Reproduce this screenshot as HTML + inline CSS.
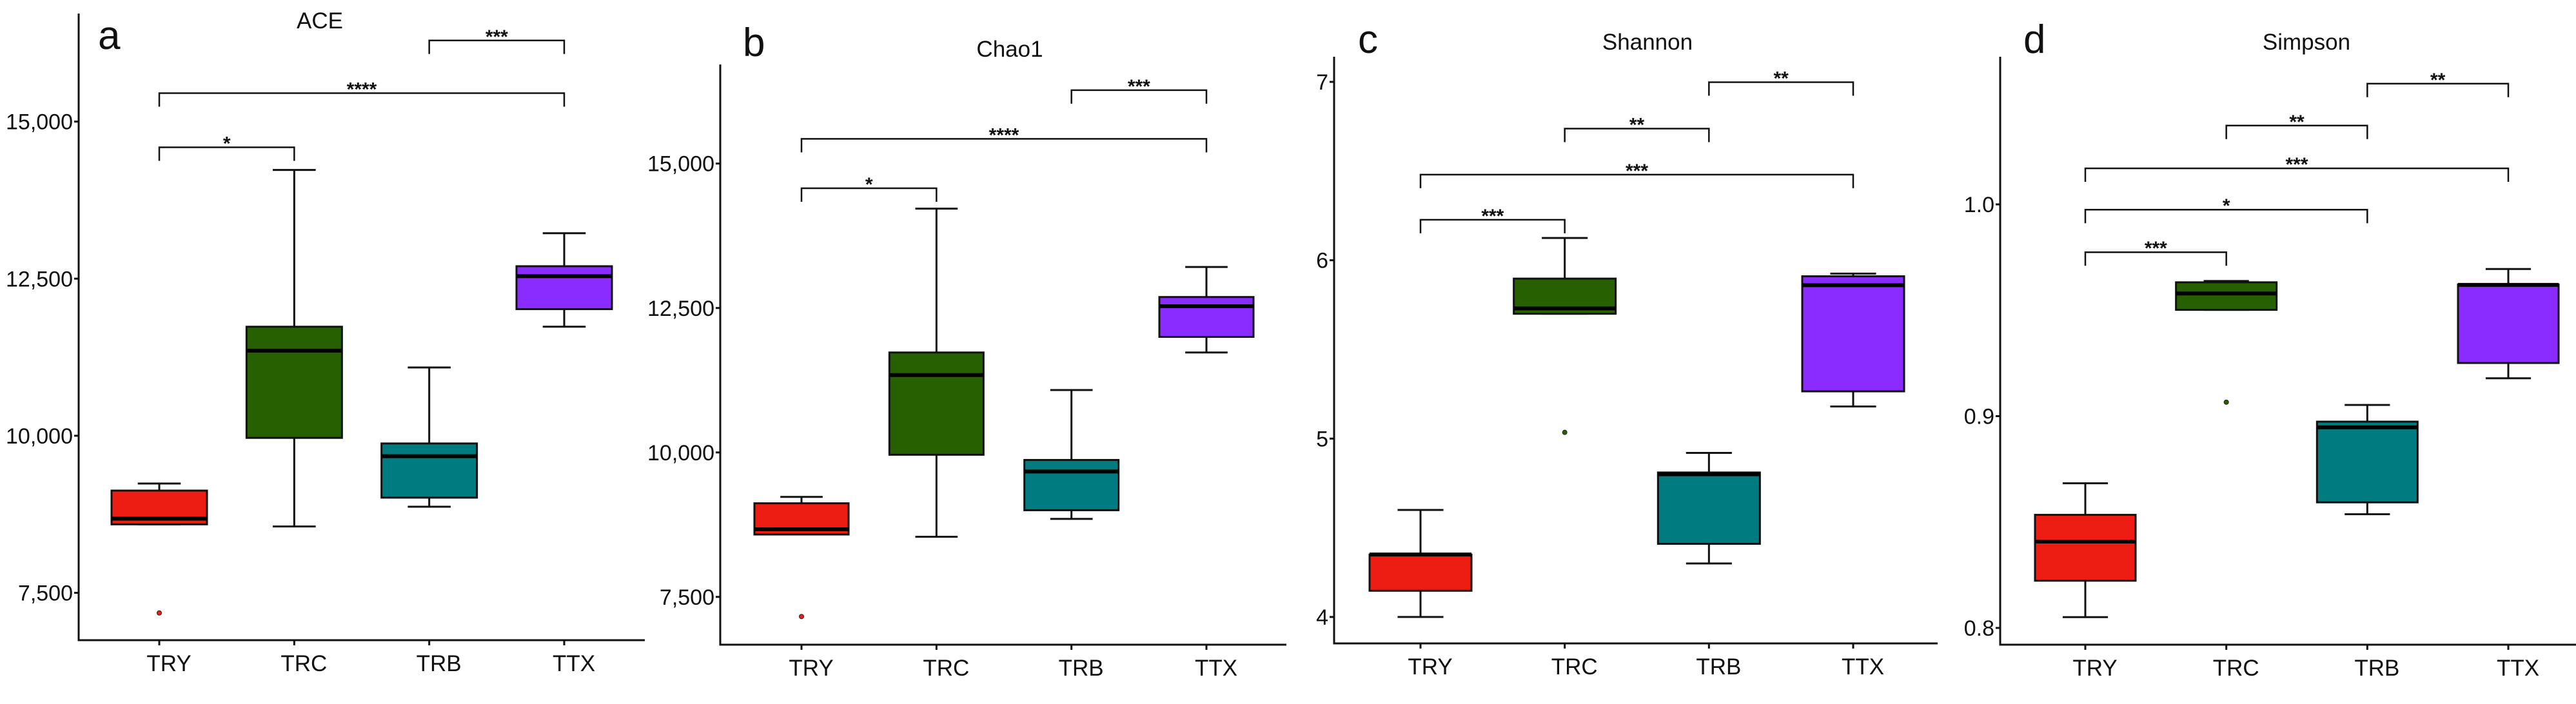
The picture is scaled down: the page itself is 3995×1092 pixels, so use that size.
<!DOCTYPE html>
<html><head><meta charset="utf-8"><style>
html,body{margin:0;padding:0;background:#fff;}
svg text{font-family:"Liberation Sans",sans-serif;fill:#111;}
</style></head><body>
<svg id="fig" width="3995" height="1087" viewBox="0 0 3995 1087" xmlns="http://www.w3.org/2000/svg"></svg>
<script>
const categories=["TRY","TRC","TRB","TTX"];
const colors=["#EE1D14","#276000","#007B80","#8A2BFF"];
// ACE
const aceWhiskerHigh=[9240,14230,11086,13224];
const aceQ3=[9127,11735,9877,12698];
const aceMedian=[8680,11355,9675,12540];
const aceQ1=[8590,9966,9015,12015];
const aceWhiskerLow=[8590,8556,8870,11735];
const aceOutliers=[[7180],[],[],[]];
const aceTicks=[7500,10000,12500,15000];
const aceTickLabels=["7,500","10,000","12,500","15,000"];
const aceBrackets=[[0,1,14590,"*"],[0,3,15452,"****"],[2,3,16291,"***"]];
// Chao1
const chaoWhiskerHigh=[9230,14220,11080,13210];
const chaoQ3=[9120,11730,9870,12690];
const chaoMedian=[8670,11340,9670,12530];
const chaoQ1=[8580,9960,9000,12000];
const chaoWhiskerLow=[8580,8540,8850,11730];
const chaoOutliers=[[7160],[],[],[]];
const chaoTicks=[7500,10000,12500,15000];
const chaoTickLabels=["7,500","10,000","12,500","15,000"];
const chaoBrackets=[[0,1,14573,"*"],[0,3,15427,"****"],[2,3,16270,"***"]];
// Shannon
const shWhiskerHigh=[4.60,6.125,4.92,5.925];
const shQ3=[4.35,5.897,4.81,5.91];
const shMedian=[4.35,5.73,4.80,5.86];
const shQ1=[4.147,5.70,4.41,5.265];
const shWhiskerLow=[4.0,5.70,4.30,5.18];
const shOutliers=[[],[5.035],[],[]];
const shTicks=[4,5,6,7];
const shTickLabels=["4","5","6","7"];
const shBrackets=[[0,1,6.227,"***"],[0,3,6.48,"***"],[1,2,6.738,"**"],[2,3,6.998,"**"]];
// Simpson
const siWhiskerHigh=[0.8683,0.9638,0.9053,0.9695];
const siQ3=[0.8534,0.9632,0.8974,0.9622];
const siMedian=[0.8408,0.9579,0.8947,0.962];
const siQ1=[0.8223,0.9502,0.8593,0.9251];
const siWhiskerLow=[0.8051,0.9502,0.8537,0.9179];
const siOutliers=[[],[0.9066],[],[]];
const siTicks=[0.8,0.9,1.0];
const siTickLabels=["0.8","0.9","1.0"];
const siBrackets=[[0,1,0.9774,"***"],[0,2,0.9975,"*"],[0,3,1.017,"***"],[1,2,1.0372,"**"],[2,3,1.057,"**"]];

const NS="http://www.w3.org/2000/svg";
const svg=document.getElementById("fig");
function mk(tag,attrs,parent){const e=document.createElementNS(NS,tag);for(const k in attrs)e.setAttribute(k,attrs[k]);(parent||svg).appendChild(e);return e;}

function panel(cfg){
  const g=mk("g",{});
  
  
  const yScale=v=>cfg.py0+(v-cfg.v0)*(cfg.py1-cfg.py0)/(cfg.v1-cfg.v0);
  const xScale=i=>cfg.cx0+i*(cfg.cx3-cfg.cx0)/3;
  const ya=mk("line",{x1:cfg.ax,y1:cfg.top,x2:cfg.ax,y2:cfg.bottom+1.5,stroke:"#111","stroke-width":3},g);
  
  
  const xa=mk("line",{x1:cfg.ax-1.5,y1:cfg.bottom,x2:cfg.right,y2:cfg.bottom,stroke:"#111","stroke-width":3},g);
  
  
  cfg.ticks.forEach((t,i)=>{
    const y=yScale(t);
    const tk=mk("line",{x1:cfg.ax-7,y1:y,x2:cfg.ax,y2:y,stroke:"#111","stroke-width":3},g);
    
    
    const tl=mk("text",{x:cfg.ax-9,y:y+12,"text-anchor":"end","font-size":34,fill:"#222"},g);
    tl.textContent=cfg.tickLabels[i];
    
    
  });
  categories.forEach((c,i)=>{
    const x=xScale(i);
    const tk=mk("line",{x1:x,y1:cfg.bottom,x2:x,y2:cfg.bottom+8,stroke:"#111","stroke-width":3},g);
    
    
    const tl=mk("text",{x:x+15,y:cfg.bottom+48,"text-anchor":"middle","font-size":35},g);
    tl.textContent=c;
    
    
    const hw=cfg.hw, cw=hw*0.45;
    const yH=yScale(cfg.wh[i]),yL=yScale(cfg.wl[i]),y3=yScale(cfg.q3[i]),y1=yScale(cfg.q1[i]),ym=yScale(cfg.med[i]);
    const w=mk("path",{d:`M${x},${yH}V${y3}M${x},${y1}V${yL}M${x-cw},${yH}H${x+cw}M${x-cw},${yL}H${x+cw}`,stroke:"#111","stroke-width":3,fill:"none"},g);
    
    
    const b=mk("rect",{x:x-hw,y:y3,width:2*hw,height:Math.max(y1-y3,1),fill:colors[i],stroke:"#111","stroke-width":3},g);
    
    
    const m=mk("line",{x1:x-hw,y1:ym,x2:x+hw,y2:ym,stroke:"#000","stroke-width":6},g);
    
    
    cfg.out[i].forEach(v=>{
      const o=mk("circle",{cx:x,cy:yScale(v),r:3.5,fill:colors[i],stroke:"#222","stroke-width":1},g);
      
      
    });
  });
  cfg.br.forEach(b=>{
    const xa=xScale(b[0]),xb=xScale(b[1]),y=yScale(b[2]);
    const p=mk("path",{d:`M${xa},${y+21}V${y}H${xb}V${y+21}`,stroke:"#111","stroke-width":2.5,fill:"none"},g);
    
    
    const t=mk("text",{x:(xa+xb)/2,y:y+4,"text-anchor":"middle","font-size":30,"font-weight":"bold"},g);
    t.textContent=b[3];
    
    
  });
  const ti=mk("text",{x:cfg.tx,y:cfg.ty+13,"text-anchor":"middle","font-size":35},g);
  ti.textContent=cfg.title;
  
  
  const le=mk("text",{x:cfg.lx,y:cfg.ly,"font-size":62},g);
  le.textContent=cfg.letter;
  
  
}

panel({id:"ace",title:"ACE",letter:"a",ax:122,top:21,bottom:993,right:1000,v0:10000,py0:675.9,v1:15000,py1:188.6,cx0:247,cx3:875,hw:74,
  ticks:aceTicks,tickLabels:aceTickLabels,wh:aceWhiskerHigh,q3:aceQ3,med:aceMedian,q1:aceQ1,wl:aceWhiskerLow,out:aceOutliers,br:aceBrackets,
  tx:496,ty:31,lx:152,ly:76});
panel({id:"chao1",title:"Chao1",letter:"b",ax:1117,top:100,bottom:1000,right:1995,v0:10000,py0:701.8,v1:15000,py1:253.7,cx0:1243,cx3:1871,hw:73,
  ticks:chaoTicks,tickLabels:chaoTickLabels,wh:chaoWhiskerHigh,q3:chaoQ3,med:chaoMedian,q1:chaoQ1,wl:chaoWhiskerLow,out:chaoOutliers,br:chaoBrackets,
  tx:1566,ty:75,lx:1152,ly:87});
panel({id:"shannon",title:"Shannon",letter:"c",ax:2069,top:88,bottom:998,right:3005,v0:4,py0:957,v1:7,py1:127,cx0:2203,cx3:2874,hw:79,
  ticks:shTicks,tickLabels:shTickLabels,wh:shWhiskerHigh,q3:shQ3,med:shMedian,q1:shQ1,wl:shWhiskerLow,out:shOutliers,br:shBrackets,
  tx:2555,ty:64,lx:2106,ly:82});
panel({id:"simpson",title:"Simpson",letter:"d",ax:3102,top:88,bottom:1000,right:3995,v0:0.8,py0:974,v1:1.0,py1:317,cx0:3234,cx3:3890,hw:78,
  ticks:siTicks,tickLabels:siTickLabels,wh:siWhiskerHigh,q3:siQ3,med:siMedian,q1:siQ1,wl:siWhiskerLow,out:siOutliers,br:siBrackets,
  tx:3577,ty:64,lx:3138,ly:82});
</script>
</body></html>
